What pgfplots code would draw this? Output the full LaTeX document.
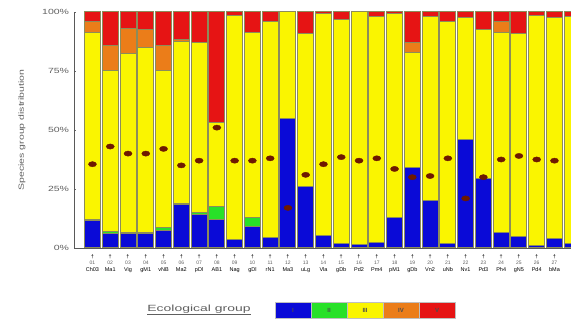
\documentclass[border=0pt]{standalone}
\usepackage{fontspec}
\setmainfont{Liberation Sans}
\usepackage{pgfplots}
\usepackage{pgfplotstable}
\pgfplotsset{compat=1.18}
\definecolor{gI}{RGB}{10,10,215}
\definecolor{gII}{RGB}{40,225,40}
\definecolor{gIII}{RGB}{250,245,0}
\definecolor{gIV}{RGB}{235,125,25}
\definecolor{gV}{RGB}{230,20,20}
\definecolor{dotc}{RGB}{110,25,0}
\definecolor{txt}{RGB}{95,95,95}
\definecolor{edge}{RGB}{140,140,90}

\pgfplotstableread{
x I II III IV V dot
1 11.5 0.5 79.5 4.5 4 35.5
2 6 1 68 11 14 43
3 6 0.5 76 10.5 7 40
4 6 0.5 78.5 7.5 7.5 40
5 7.5 1 66.5 11 14 42
6 18.5 0.5 68.5 1 11.5 35
7 14 1 72 0 13 37
8 12 5.5 35.5 0 47 51
9 3.5 0 95 0 1.5 37
10 9 4 78.5 0 8.5 37
11 4.5 0 91.5 0 4 38
12 55 0 45 0 0 17
13 26 0 65 0 9 31
14 5.5 0 94 0 0.5 35.5
15 2 0 95 0 3 38.5
16 1.5 0 98.5 0 0 37
17 2.5 0 95.5 0 2 38
18 13 0 86.5 0 0.5 33.5
19 34 0 49 4 13 30
20 20 0 78 0 2 30.5
21 2 0 94 0 4 38
22 46 0 51.5 0 2.5 21
23 29.5 0 63 0 7.5 30
24 6.5 0 85 4.5 4 37.5
25 5 0 86 0 9 39
26 1 0 97.7 0 1.3 37.5
27 4 0 93.5 0 2.5 37
28 2 0 96 0 2 37
}\data

\pgfplotsset{common/.style={
  at={(74pt,73pt)}, anchor=south west, scale only axis,
  width=497pt, height=236pt,
  xmin=-0.04, xmax=27.93, ymin=0, ymax=100,
}}

\begin{document}
\begin{tikzpicture}
\useasboundingbox (0pt,0pt) rectangle (571pt,321pt);
\begin{axis}[common,
  ybar stacked, bar width=0.9,
  axis x line*=bottom, axis y line*=left,
  axis line style={black!65, line width=0.6pt},
  ytick={0,25,50,75,100},
  yticklabels={0\%,25\%,50\%,75\%,100\%},
  yticklabel style={font=\fontsize{7.5}{8}\selectfont, text=txt, xscale=1.4, anchor=east},
  tick align=inside, ytick pos=left, major tick length=2pt,
  tick style={black!60},
  xtick=data,
  xtick style={draw=none},
  xticklabel style={align=center, font=\fontsize{5.5}{6.5}\selectfont, inner sep=1pt, yshift=-5pt},
  xticklabels={
   {†\\[0pt]{\tiny\color{txt}01}\\Ch03},{†\\[0pt]{\tiny\color{txt}02}\\Ma1},{†\\[0pt]{\tiny\color{txt}03}\\Vig},{†\\[0pt]{\tiny\color{txt}04}\\gM1},
   {†\\[0pt]{\tiny\color{txt}05}\\vNB},{†\\[0pt]{\tiny\color{txt}06}\\Ma2},{†\\[0pt]{\tiny\color{txt}07}\\pDl},{†\\[0pt]{\tiny\color{txt}08}\\AB1},
   {†\\[0pt]{\tiny\color{txt}09}\\Nag},{†\\[0pt]{\tiny\color{txt}10}\\gDl},{†\\[0pt]{\tiny\color{txt}11}\\rN1},{†\\[0pt]{\tiny\color{txt}12}\\Ma3},
   {†\\[0pt]{\tiny\color{txt}13}\\uLg},{†\\[0pt]{\tiny\color{txt}14}\\Vla},{†\\[0pt]{\tiny\color{txt}15}\\gDb},{†\\[0pt]{\tiny\color{txt}16}\\Pd2},
   {†\\[0pt]{\tiny\color{txt}17}\\Pm4},{†\\[0pt]{\tiny\color{txt}18}\\pM1},{†\\[0pt]{\tiny\color{txt}19}\\gDb},{†\\[0pt]{\tiny\color{txt}20}\\Vn2},
   {†\\[0pt]{\tiny\color{txt}21}\\uNb},{†\\[0pt]{\tiny\color{txt}22}\\Nv1},{†\\[0pt]{\tiny\color{txt}23}\\Pd3},{†\\[0pt]{\tiny\color{txt}24}\\Ph4},
   {†\\[0pt]{\tiny\color{txt}25}\\gN5},{†\\[0pt]{\tiny\color{txt}26}\\Pd4},{†\\[0pt]{\tiny\color{txt}27}\\bMa},{†\\[0pt]{\tiny\color{txt}28}\\Pm5}},
  ylabel={Species group distribution},
  ylabel style={font=\fontsize{7.5}{8}\selectfont, text=txt, xscale=1.4, at={(axis description cs:-0.105,0.5)}, anchor=center},
  every axis plot/.append style={draw=edge, line width=1pt},
]
\addplot[fill=gI] table[x=x,y=I]{\data};
\addplot[fill=gII] table[x=x,y=II]{\data};
\addplot[fill=gIII] table[x=x,y=III]{\data};
\addplot[fill=gIV] table[x=x,y=IV]{\data};
\addplot[fill=gV] table[x=x,y=V]{\data};
\end{axis}
\begin{axis}[common, hide axis]
\addplot[only marks, mark=*, mark size=2.6pt,
  mark options={xscale=1.55, fill=dotc, draw=dotc}] table[x=x,y=dot]{\data};
\end{axis}
\node[font=\fontsize{9}{10}\selectfont, text=txt, xscale=1.55] at (199pt,11pt) {\underline{Ecological group}};
\foreach \c/\l [count=\i from 0] in {gI/I,gII/II,gIII/III,gIV/IV,gV/V}{
  \draw[fill=\c, draw=gray!50, line width=0.5pt] ({275pt+36pt*\i},3pt) rectangle ++(36pt,16pt);
  \node[font=\fontsize{6}{7}\selectfont\bfseries, text=black!70] at ({293pt+36pt*\i},11pt) {\l};
}
\end{tikzpicture}
\end{document}
